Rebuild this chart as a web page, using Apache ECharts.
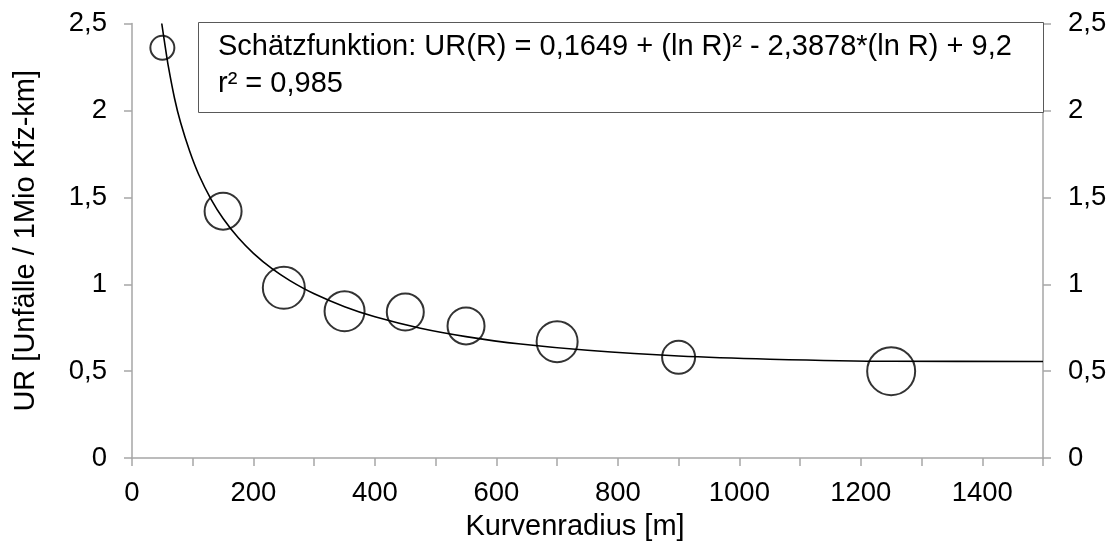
<!DOCTYPE html>
<html>
<head>
<meta charset="utf-8">
<script src="https://cdn.jsdelivr.net/npm/echarts@6/dist/echarts.min.js"></script>
<style>
  html, body { margin: 0; padding: 0; background: #fff; }
  #chart { width: 1113px; height: 546px; }
</style>
</head>
<body>
<div id="chart"></div>
<script>
// ---- data ----
const radius = [50, 150, 250, 350, 450, 550, 700, 900, 1250];          // Kurvenradius [m]
const accidentRate = [2.36, 1.42, 0.98, 0.845, 0.84, 0.76, 0.67, 0.58, 0.50]; // UR
const bubbleValue = [5.76, 13.69, 17.64, 16.0, 13.69, 13.69, 16.81, 10.89, 23.04]; // relative bubble weight

// fitted curve
const curveR = [49, 55, 60, 70, 80, 95, 110, 130, 150, 175, 200, 230, 260, 300, 350, 400, 475, 550, 640, 750, 900, 1050, 1250, 1500];
const curveUR = [2.50, 2.36, 2.25, 2.07, 1.93, 1.765, 1.63, 1.49, 1.378, 1.267, 1.178, 1.091, 1.021, 0.945, 0.871, 0.813, 0.747, 0.699, 0.656, 0.620, 0.587, 0.569, 0.557, 0.556];

const yTicks = [0, 0.5, 1, 1.5, 2, 2.5];
const xLabelStep = 200;

const formulaText = 'Schätzfunktion: UR(R) = 0,1649 + (ln R)² - 2,3878*(ln R) + 9,2';
const r2Text = 'r² = 0,985';
const xTitle = 'Kurvenradius [m]';
const yTitle = 'UR [Unfälle / 1Mio Kfz-km]';

// ---- chart ----
const FONT = "'Liberation Sans', Arial, sans-serif";
const AXIS_COLOR = '#a6a6a6';
const fmtY = v => String(v).replace('.', ',');

const chart = echarts.init(document.getElementById('chart'), null, { renderer: 'canvas' });

const yAxisBase = {
  type: 'value', min: yTicks[0], max: yTicks[yTicks.length - 1], interval: 0.5,
  splitLine: { show: false },
  axisLine: { show: true, lineStyle: { color: AXIS_COLOR, width: 1.5 } },
  axisTick: { show: true, inside: false, length: 8, lineStyle: { color: AXIS_COLOR, width: 1.5 } },
  axisLabel: { color: '#000', fontSize: 27.5, fontFamily: FONT, margin: 25, formatter: fmtY }
};

chart.setOption({
  animation: false,
  backgroundColor: '#fff',
  grid: { left: 132, right: 70, top: 23.5, bottom: 85, containLabel: false },
  xAxis: {
    type: 'value', min: 0, max: 1500, interval: 100,
    splitLine: { show: false },
    axisLine: { show: true, onZero: false, lineStyle: { color: AXIS_COLOR, width: 1.5 } },
    axisTick: { show: true, length: 8, lineStyle: { color: AXIS_COLOR, width: 1.5 } },
    axisLabel: {
      color: '#000', fontSize: 27.5, fontFamily: FONT, margin: 21,
      formatter: v => (v % xLabelStep === 0 ? String(v) : '')
    },
    name: xTitle, nameLocation: 'middle', nameGap: 39,
    nameTextStyle: { color: '#000', fontSize: 29, fontFamily: FONT, padding: [0, 25, 0, 0] }
  },
  yAxis: [
    Object.assign({}, yAxisBase, {
      position: 'left',
      name: yTitle, nameLocation: 'middle', nameGap: 92,
      nameTextStyle: { color: '#000', fontSize: 29, fontFamily: FONT }
    }),
    Object.assign({}, yAxisBase, { position: 'right' })
  ],
  series: [
    {
      type: 'line',
      data: curveR.map((r, i) => [r, curveUR[i]]),
      smooth: 0.3,
      showSymbol: false,
      lineStyle: { color: '#000', width: 1.6 },
      z: 3
    },
    {
      type: 'scatter',
      data: radius.map((r, i) => [r, accidentRate[i], bubbleValue[i]]),
      symbol: 'circle',
      symbolSize: d => 10 * Math.sqrt(d[2]),
      itemStyle: { color: 'rgba(0,0,0,0)', borderColor: '#000', borderWidth: 2 },
      z: 4
    }
  ],
  graphic: [
    {
      type: 'rect', left: 198, top: 22, z: 10,
      shape: { width: 845, height: 90 },
      style: { fill: '#fff', stroke: '#595959', lineWidth: 1 }
    },
    {
      type: 'text', x: 218, y: 47, z: 11,
      style: { text: formulaText, fill: '#000', font: '29px ' + FONT, textVerticalAlign: 'middle' }
    },
    {
      type: 'text', x: 218, y: 83.5, z: 11,
      style: { text: r2Text, fill: '#000', font: '29px ' + FONT, textVerticalAlign: 'middle' }
    }
  ]
});
</script>
</body>
</html>
